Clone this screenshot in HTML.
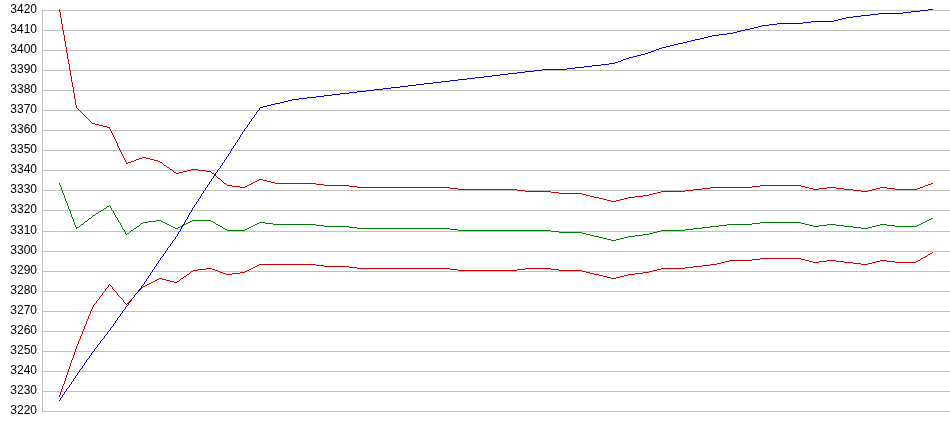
<!DOCTYPE html>
<html><head><meta charset="utf-8"><title>chart</title>
<style>
html,body{margin:0;padding:0;background:#fff;}
svg{display:block}
text{font-family:"Liberation Sans",Arial,sans-serif;font-size:12px;fill:#000;text-anchor:end}
path{shape-rendering:crispEdges}
</style></head><body>
<svg width="950" height="435" viewBox="0 0 950 435">
<rect width="950" height="435" fill="#fff"/>
<g fill="#c0c0c0" shape-rendering="crispEdges"><rect x="42" y="10" width="908" height="1"/><rect x="42" y="30" width="908" height="1"/><rect x="42" y="50" width="908" height="1"/><rect x="42" y="70" width="908" height="1"/><rect x="42" y="90" width="908" height="1"/><rect x="42" y="110" width="908" height="1"/><rect x="42" y="130" width="908" height="1"/><rect x="42" y="150" width="908" height="1"/><rect x="42" y="170" width="908" height="1"/><rect x="42" y="190" width="908" height="1"/><rect x="42" y="210" width="908" height="1"/><rect x="42" y="231" width="908" height="1"/><rect x="42" y="251" width="908" height="1"/><rect x="42" y="271" width="908" height="1"/><rect x="42" y="291" width="908" height="1"/><rect x="42" y="311" width="908" height="1"/><rect x="42" y="331" width="908" height="1"/><rect x="42" y="351" width="908" height="1"/><rect x="42" y="371" width="908" height="1"/><rect x="42" y="391" width="908" height="1"/><rect x="42" y="411" width="908" height="1"/><rect x="42" y="10" width="1" height="402"/></g>
<g><text x="37" y="13">3420</text><text x="37" y="33">3410</text><text x="37" y="53">3400</text><text x="37" y="73">3390</text><text x="37" y="93">3380</text><text x="37" y="113">3370</text><text x="37" y="133">3360</text><text x="37" y="153">3350</text><text x="37" y="173">3340</text><text x="37" y="193">3330</text><text x="37" y="213">3320</text><text x="37" y="234">3310</text><text x="37" y="254">3300</text><text x="37" y="274">3290</text><text x="37" y="294">3280</text><text x="37" y="314">3270</text><text x="37" y="334">3260</text><text x="37" y="354">3250</text><text x="37" y="374">3240</text><text x="37" y="394">3230</text><text x="37" y="414">3220</text></g>
<path fill="#cc0000" d="M59 9h1v3h-1zM60 12h1v6h-1zM61 18h1v6h-1zM62 24h1v6h-1zM63 30h1v5h-1zM64 35h1v6h-1zM65 41h1v6h-1zM66 47h1v6h-1zM67 53h1v6h-1zM68 59h1v5h-1zM69 64h1v6h-1zM70 70h1v6h-1zM71 76h1v6h-1zM72 82h1v5h-1zM73 87h1v6h-1zM74 93h1v6h-1zM75 99h1v6h-1zM76 105h1v3h-1zM77 108h1v1h-1zM78 109h1v1h-1zM79 110h1v1h-1zM80 111h1v1h-1zM81 112h1v1h-1zM82 113h1v1h-1zM83 114h1v1h-1zM84 115h1v1h-1zM85 116h1v1h-1zM86 117h1v1h-1zM87 118h1v1h-1zM88 119h1v1h-1zM89 120h1v1h-1zM90 121h1v1h-1zM91 122h1v1h-1zM92 123h3v1h-3zM95 124h4v1h-4zM99 125h4v1h-4zM103 126h4v1h-4zM107 127h3v1h-3zM109 128h1v1h-1zM110 129h1v2h-1zM111 131h1v2h-1zM112 133h1v2h-1zM113 135h1v2h-1zM114 137h1v2h-1zM115 139h1v2h-1zM116 141h1v2h-1zM117 143h1v3h-1zM118 146h1v2h-1zM119 148h1v2h-1zM120 150h1v2h-1zM121 152h1v2h-1zM122 154h1v2h-1zM123 156h1v2h-1zM124 158h1v2h-1zM125 160h1v2h-1zM126 162h1v1h-1zM126 163h2v1h-2zM128 162h3v1h-3zM131 161h3v1h-3zM134 160h2v1h-2zM136 159h3v1h-3zM139 158h3v1h-3zM142 157h4v1h-4zM146 158h4v1h-4zM150 159h4v1h-4zM154 160h4v1h-4zM158 161h2v1h-2zM160 162h2v1h-2zM162 163h1v1h-1zM163 164h1v1h-1zM164 165h2v1h-2zM166 166h1v1h-1zM167 167h2v1h-2zM169 168h1v1h-1zM170 169h2v1h-2zM172 170h1v1h-1zM173 171h1v1h-1zM174 172h2v1h-2zM176 173h3v1h-3zM179 172h4v1h-4zM183 171h4v1h-4zM187 170h4v1h-4zM191 169h7v1h-7zM198 170h8v1h-8zM206 171h5v1h-5zM211 172h1v1h-1zM212 173h2v1h-2zM214 174h1v1h-1zM215 175h1v1h-1zM216 176h1v1h-1zM217 177h1v1h-1zM218 178h2v1h-2zM220 179h1v1h-1zM221 180h1v1h-1zM222 181h1v1h-1zM223 182h1v1h-1zM224 183h2v1h-2zM226 184h1v1h-1zM227 185h5v1h-5zM232 186h8v1h-8zM240 187h5v1h-5zM245 186h2v1h-2zM247 185h2v1h-2zM249 184h2v1h-2zM251 183h2v1h-2zM253 182h2v1h-2zM255 181h2v1h-2zM257 180h2v1h-2zM259 179h4v1h-4zM263 180h4v1h-4zM267 181h4v1h-4zM271 182h4v1h-4zM275 183h41v1h-41zM316 184h8v1h-8zM324 185h25v1h-25zM349 186h8v1h-8zM357 187h93v1h-93zM450 188h8v1h-8zM458 189h59v1h-59zM517 190h8v1h-8zM525 191h26v1h-26zM551 192h8v1h-8zM559 193h23v1h-23zM582 194h4v1h-4zM586 195h4v1h-4zM590 196h4v1h-4zM594 197h5v1h-5zM599 198h4v1h-4zM603 199h4v1h-4zM607 200h4v1h-4zM611 201h5v1h-5zM616 200h4v1h-4zM620 199h4v1h-4zM624 198h4v1h-4zM628 197h7v1h-7zM635 196h8v1h-8zM643 195h6v1h-6zM649 194h4v1h-4zM653 193h4v1h-4zM657 192h4v1h-4zM661 191h24v1h-24zM685 190h8v1h-8zM693 189h9v1h-9zM702 188h8v1h-8zM710 187h42v1h-42zM752 186h8v1h-8zM760 185h41v1h-41zM801 186h4v1h-4zM805 187h4v1h-4zM809 188h4v1h-4zM813 189h6v1h-6zM819 188h8v1h-8zM827 187h9v1h-9zM836 188h8v1h-8zM844 189h9v1h-9zM853 190h8v1h-8zM861 191h7v1h-7zM868 190h4v1h-4zM872 189h4v1h-4zM876 188h4v1h-4zM880 187h7v1h-7zM887 188h8v1h-8zM895 189h22v1h-22zM917 188h3v1h-3zM920 187h3v1h-3zM923 186h2v1h-2zM925 185h3v1h-3zM928 184h3v1h-3zM931 183h2v1h-2z"/>
<path fill="#cc0000" d="M59 395h1v2h-1zM60 392h1v3h-1zM61 389h1v3h-1zM62 386h1v3h-1zM63 384h1v2h-1zM64 381h1v3h-1zM65 378h1v3h-1zM66 375h1v3h-1zM67 372h1v3h-1zM68 369h1v3h-1zM69 366h1v3h-1zM70 363h1v3h-1zM71 360h1v3h-1zM72 358h1v2h-1zM73 355h1v3h-1zM74 352h1v3h-1zM75 349h1v3h-1zM76 346h1v3h-1zM77 344h1v2h-1zM78 341h1v3h-1zM79 339h1v2h-1zM80 336h1v3h-1zM81 334h1v2h-1zM82 331h1v3h-1zM83 329h1v2h-1zM84 326h1v3h-1zM85 324h1v2h-1zM86 321h1v3h-1zM87 319h1v2h-1zM88 316h1v3h-1zM89 314h1v2h-1zM90 311h1v3h-1zM91 309h1v2h-1zM92 307h1v2h-1zM93 305h1v2h-1zM94 304h1v1h-1zM95 303h1v1h-1zM96 301h1v2h-1zM97 300h1v1h-1zM98 299h1v1h-1zM99 297h1v2h-1zM100 296h1v1h-1zM101 295h1v1h-1zM102 293h1v2h-1zM103 292h1v1h-1zM104 291h1v1h-1zM105 289h1v2h-1zM106 288h1v1h-1zM107 287h1v1h-1zM108 285h1v2h-1zM109 284h1v1h-1zM110 285h1v1h-1zM111 286h1v1h-1zM112 287h1v2h-1zM113 289h1v1h-1zM114 290h1v1h-1zM115 291h1v1h-1zM116 292h1v1h-1zM117 293h1v2h-1zM118 295h1v1h-1zM119 296h1v1h-1zM120 297h1v1h-1zM121 298h1v1h-1zM122 299h1v1h-1zM123 300h1v2h-1zM124 302h1v1h-1zM125 303h1v1h-1zM126 304h1v1h-1zM127 303h1v1h-1zM128 302h1v1h-1zM129 301h1v1h-1zM130 300h1v1h-1zM131 299h1v1h-1zM132 298h1v1h-1zM133 297h1v1h-1zM134 295h1v2h-1zM135 294h1v1h-1zM136 293h1v1h-1zM137 292h1v1h-1zM138 291h1v1h-1zM139 290h1v1h-1zM140 289h1v1h-1zM141 288h1v1h-1zM142 287h1v1h-1zM143 286h2v1h-2zM145 285h2v1h-2zM147 284h2v1h-2zM149 283h2v1h-2zM151 282h2v1h-2zM153 281h2v1h-2zM155 280h2v1h-2zM157 279h2v1h-2zM159 278h3v1h-3zM162 279h4v1h-4zM166 280h4v1h-4zM170 281h4v1h-4zM174 282h3v1h-3zM177 281h2v1h-2zM179 280h1v1h-1zM180 279h1v1h-1zM181 278h2v1h-2zM183 277h1v1h-1zM184 276h2v1h-2zM186 275h1v1h-1zM187 274h2v1h-2zM189 273h1v1h-1zM190 272h1v1h-1zM191 271h2v1h-2zM193 270h5v1h-5zM198 269h8v1h-8zM206 268h6v1h-6zM212 269h3v1h-3zM215 270h3v1h-3zM218 271h2v1h-2zM220 272h3v1h-3zM223 273h3v1h-3zM226 274h6v1h-6zM232 273h8v1h-8zM240 272h5v1h-5zM245 271h2v1h-2zM247 270h2v1h-2zM249 269h2v1h-2zM251 268h2v1h-2zM253 267h2v1h-2zM255 266h2v1h-2zM257 265h2v1h-2zM259 264h57v1h-57zM316 265h8v1h-8zM324 266h25v1h-25zM349 267h8v1h-8zM357 268h93v1h-93zM450 269h8v1h-8zM458 270h59v1h-59zM517 269h8v1h-8zM525 268h26v1h-26zM551 269h8v1h-8zM559 270h23v1h-23zM582 271h4v1h-4zM586 272h4v1h-4zM590 273h4v1h-4zM594 274h5v1h-5zM599 275h4v1h-4zM603 276h4v1h-4zM607 277h4v1h-4zM611 278h5v1h-5zM616 277h4v1h-4zM620 276h4v1h-4zM624 275h4v1h-4zM628 274h7v1h-7zM635 273h8v1h-8zM643 272h6v1h-6zM649 271h4v1h-4zM653 270h4v1h-4zM657 269h4v1h-4zM661 268h24v1h-24zM685 267h8v1h-8zM693 266h9v1h-9zM702 265h8v1h-8zM710 264h7v1h-7zM717 263h4v1h-4zM721 262h4v1h-4zM725 261h4v1h-4zM729 260h23v1h-23zM752 259h8v1h-8zM760 258h41v1h-41zM801 259h4v1h-4zM805 260h4v1h-4zM809 261h4v1h-4zM813 262h6v1h-6zM819 261h8v1h-8zM827 260h9v1h-9zM836 261h8v1h-8zM844 262h9v1h-9zM853 263h8v1h-8zM861 264h7v1h-7zM868 263h4v1h-4zM872 262h4v1h-4zM876 261h4v1h-4zM880 260h7v1h-7zM887 261h8v1h-8zM895 262h21v1h-21zM916 261h2v1h-2zM918 260h2v1h-2zM920 259h1v1h-1zM921 258h2v1h-2zM923 257h2v1h-2zM925 256h2v1h-2zM927 255h1v1h-1zM928 254h2v1h-2zM930 253h2v1h-2zM932 252h1v1h-1z"/>
<path fill="#008000" d="M59 183h1v2h-1zM60 185h1v2h-1zM61 187h1v3h-1zM62 190h1v3h-1zM63 193h1v2h-1zM64 195h1v3h-1zM65 198h1v3h-1zM66 201h1v2h-1zM67 203h1v3h-1zM68 206h1v3h-1zM69 209h1v2h-1zM70 211h1v3h-1zM71 214h1v3h-1zM72 217h1v2h-1zM73 219h1v3h-1zM74 222h1v3h-1zM75 225h1v2h-1zM76 228h1v1h-1zM76 227h3v1h-3zM79 226h1v1h-1zM80 225h1v1h-1zM81 224h2v1h-2zM83 223h1v1h-1zM84 222h1v1h-1zM85 221h2v1h-2zM87 220h1v1h-1zM88 219h1v1h-1zM89 218h2v1h-2zM91 217h1v1h-1zM92 216h1v1h-1zM93 215h2v1h-2zM95 214h1v1h-1zM96 213h2v1h-2zM98 212h1v1h-1zM99 211h2v1h-2zM101 210h2v1h-2zM103 209h1v1h-1zM104 208h2v1h-2zM106 207h1v1h-1zM107 206h2v1h-2zM109 205h1v1h-1zM110 206h1v2h-1zM111 208h1v2h-1zM112 210h1v1h-1zM113 211h1v2h-1zM114 213h1v2h-1zM115 215h1v2h-1zM116 217h1v1h-1zM117 218h1v2h-1zM118 220h1v2h-1zM119 222h1v1h-1zM120 223h1v2h-1zM121 225h1v2h-1zM122 227h1v2h-1zM123 229h1v1h-1zM124 230h1v2h-1zM125 232h1v2h-1zM126 234h1v1h-1zM127 233h2v1h-2zM129 232h1v1h-1zM130 231h1v1h-1zM131 230h2v1h-2zM133 229h1v1h-1zM134 228h2v1h-2zM136 227h1v1h-1zM137 226h2v1h-2zM139 225h1v1h-1zM140 224h1v1h-1zM141 223h2v1h-2zM143 222h5v1h-5zM148 221h8v1h-8zM156 220h5v1h-5zM161 221h2v1h-2zM163 222h2v1h-2zM165 223h2v1h-2zM167 224h2v1h-2zM169 225h2v1h-2zM171 226h2v1h-2zM173 227h2v1h-2zM175 228h3v1h-3zM178 227h2v1h-2zM180 226h2v1h-2zM182 225h2v1h-2zM184 224h2v1h-2zM186 223h2v1h-2zM188 222h2v1h-2zM190 221h2v1h-2zM192 220h19v1h-19zM211 221h2v1h-2zM213 222h2v1h-2zM215 223h1v1h-1zM216 224h2v1h-2zM218 225h2v1h-2zM220 226h2v1h-2zM222 227h1v1h-1zM223 228h2v1h-2zM225 229h2v1h-2zM227 230h18v1h-18zM245 229h2v1h-2zM247 228h2v1h-2zM249 227h2v1h-2zM251 226h2v1h-2zM253 225h2v1h-2zM255 224h2v1h-2zM257 223h2v1h-2zM259 222h6v1h-6zM265 223h8v1h-8zM273 224h43v1h-43zM316 225h8v1h-8zM324 226h25v1h-25zM349 227h8v1h-8zM357 228h93v1h-93zM450 229h8v1h-8zM458 230h93v1h-93zM551 231h8v1h-8zM559 232h23v1h-23zM582 233h4v1h-4zM586 234h4v1h-4zM590 235h4v1h-4zM594 236h5v1h-5zM599 237h4v1h-4zM603 238h4v1h-4zM607 239h4v1h-4zM611 240h5v1h-5zM616 239h4v1h-4zM620 238h4v1h-4zM624 237h4v1h-4zM628 236h7v1h-7zM635 235h8v1h-8zM643 234h6v1h-6zM649 233h4v1h-4zM653 232h4v1h-4zM657 231h4v1h-4zM661 230h24v1h-24zM685 229h8v1h-8zM693 228h9v1h-9zM702 227h8v1h-8zM710 226h9v1h-9zM719 225h8v1h-8zM727 224h25v1h-25zM752 223h8v1h-8zM760 222h41v1h-41zM801 223h4v1h-4zM805 224h4v1h-4zM809 225h4v1h-4zM813 226h6v1h-6zM819 225h8v1h-8zM827 224h9v1h-9zM836 225h8v1h-8zM844 226h9v1h-9zM853 227h8v1h-8zM861 228h7v1h-7zM868 227h4v1h-4zM872 226h4v1h-4zM876 225h4v1h-4zM880 224h7v1h-7zM887 225h8v1h-8zM895 226h22v1h-22zM917 225h2v1h-2zM919 224h2v1h-2zM921 223h2v1h-2zM923 222h2v1h-2zM925 221h2v1h-2zM927 220h2v1h-2zM929 219h2v1h-2zM931 218h2v1h-2z"/>
<path fill="#0000cc" d="M59 400h1v1h-1zM60 398h1v2h-1zM61 397h1v1h-1zM62 395h1v2h-1zM63 394h1v1h-1zM64 392h1v2h-1zM65 391h1v1h-1zM66 389h1v2h-1zM67 388h1v1h-1zM68 387h1v1h-1zM69 385h1v2h-1zM70 384h1v1h-1zM71 382h1v2h-1zM72 381h1v1h-1zM73 379h1v2h-1zM74 378h1v1h-1zM75 376h1v2h-1zM76 375h1v1h-1zM77 373h1v2h-1zM78 372h1v1h-1zM79 370h1v2h-1zM80 369h1v1h-1zM81 368h1v1h-1zM82 366h1v2h-1zM83 365h1v1h-1zM84 363h1v2h-1zM85 362h1v1h-1zM86 360h1v2h-1zM87 359h1v1h-1zM88 358h1v1h-1zM89 356h1v2h-1zM90 355h1v1h-1zM91 353h1v2h-1zM92 352h1v1h-1zM93 351h1v1h-1zM94 349h1v2h-1zM95 348h1v1h-1zM96 347h1v1h-1zM97 345h1v2h-1zM98 344h1v1h-1zM99 343h1v1h-1zM100 341h1v2h-1zM101 340h1v1h-1zM102 339h1v1h-1zM103 338h1v1h-1zM104 336h1v2h-1zM105 335h1v1h-1zM106 334h1v1h-1zM107 332h1v2h-1zM108 331h1v1h-1zM109 330h1v1h-1zM110 328h1v2h-1zM111 327h1v1h-1zM112 326h1v1h-1zM113 324h1v2h-1zM114 323h1v1h-1zM115 321h1v2h-1zM116 320h1v1h-1zM117 318h1v2h-1zM118 317h1v1h-1zM119 316h1v1h-1zM120 314h1v2h-1zM121 313h1v1h-1zM122 311h1v2h-1zM123 310h1v1h-1zM124 309h1v1h-1zM125 307h1v2h-1zM126 306h1v1h-1zM127 305h1v1h-1zM128 303h1v2h-1zM129 302h1v1h-1zM130 301h1v1h-1zM131 299h1v2h-1zM132 298h1v1h-1zM133 297h1v1h-1zM134 295h1v2h-1zM135 294h1v1h-1zM136 293h1v1h-1zM137 292h1v1h-1zM138 290h1v2h-1zM139 289h1v1h-1zM140 288h1v1h-1zM141 286h1v2h-1zM142 285h1v1h-1zM143 284h1v1h-1zM144 282h1v2h-1zM145 281h1v1h-1zM146 279h1v2h-1zM147 278h1v1h-1zM148 276h1v2h-1zM149 275h1v1h-1zM150 273h1v2h-1zM151 272h1v1h-1zM152 270h1v2h-1zM153 269h1v1h-1zM154 267h1v2h-1zM155 266h1v1h-1zM156 264h1v2h-1zM157 263h1v1h-1zM158 261h1v2h-1zM159 260h1v1h-1zM160 258h1v2h-1zM161 257h1v1h-1zM162 256h1v1h-1zM163 254h1v2h-1zM164 253h1v1h-1zM165 251h1v2h-1zM166 250h1v1h-1zM167 248h1v2h-1zM168 247h1v1h-1zM169 246h1v1h-1zM170 244h1v2h-1zM171 243h1v1h-1zM172 241h1v2h-1zM173 240h1v1h-1zM174 239h1v1h-1zM175 237h1v2h-1zM176 236h1v1h-1zM177 234h1v2h-1zM178 232h1v2h-1zM179 231h1v1h-1zM180 229h1v2h-1zM181 227h1v2h-1zM182 225h1v2h-1zM183 224h1v1h-1zM184 222h1v2h-1zM185 220h1v2h-1zM186 219h1v1h-1zM187 217h1v2h-1zM188 215h1v2h-1zM189 213h1v2h-1zM190 212h1v1h-1zM191 210h1v2h-1zM192 208h1v2h-1zM193 207h1v1h-1zM194 205h1v2h-1zM195 204h1v1h-1zM196 202h1v2h-1zM197 201h1v1h-1zM198 199h1v2h-1zM199 198h1v1h-1zM200 196h1v2h-1zM201 194h1v2h-1zM202 193h1v1h-1zM203 191h1v2h-1zM204 190h1v1h-1zM205 188h1v2h-1zM206 187h1v1h-1zM207 185h1v2h-1zM208 184h1v1h-1zM209 182h1v2h-1zM210 181h1v1h-1zM211 179h1v2h-1zM212 178h1v1h-1zM213 176h1v2h-1zM214 175h1v1h-1zM215 173h1v2h-1zM216 172h1v1h-1zM217 170h1v2h-1zM218 169h1v1h-1zM219 168h1v1h-1zM220 166h1v2h-1zM221 165h1v1h-1zM222 163h1v2h-1zM223 162h1v1h-1zM224 160h1v2h-1zM225 159h1v1h-1zM226 157h1v2h-1zM227 156h1v1h-1zM228 154h1v2h-1zM229 153h1v1h-1zM230 151h1v2h-1zM231 149h1v2h-1zM232 148h1v1h-1zM233 146h1v2h-1zM234 145h1v1h-1zM235 143h1v2h-1zM236 142h1v1h-1zM237 140h1v2h-1zM238 139h1v1h-1zM239 137h1v2h-1zM240 135h1v2h-1zM241 134h1v1h-1zM242 132h1v2h-1zM243 131h1v1h-1zM244 129h1v2h-1zM245 128h1v1h-1zM246 127h1v1h-1zM247 125h1v2h-1zM248 124h1v1h-1zM249 122h1v2h-1zM250 121h1v1h-1zM251 119h1v2h-1zM252 118h1v1h-1zM253 117h1v1h-1zM254 115h1v2h-1zM255 114h1v1h-1zM256 112h1v2h-1zM257 111h1v1h-1zM258 110h1v1h-1zM259 108h1v2h-1zM260 107h3v1h-3zM263 106h4v1h-4zM267 105h4v1h-4zM271 104h4v1h-4zM275 103h5v1h-5zM280 102h4v1h-4zM284 101h4v1h-4zM288 100h4v1h-4zM292 99h7v1h-7zM299 98h8v1h-8zM307 97h9v1h-9zM316 96h8v1h-8zM324 95h8v1h-8zM332 94h8v1h-8zM340 93h9v1h-9zM349 92h8v1h-8zM357 91h9v1h-9zM366 90h8v1h-8zM374 89h9v1h-9zM383 88h8v1h-8zM391 87h9v1h-9zM400 86h8v1h-8zM408 85h8v1h-8zM416 84h8v1h-8zM424 83h9v1h-9zM433 82h8v1h-8zM441 81h9v1h-9zM450 80h8v1h-8zM458 79h9v1h-9zM467 78h8v1h-8zM475 77h9v1h-9zM484 76h8v1h-8zM492 75h8v1h-8zM500 74h8v1h-8zM508 73h9v1h-9zM517 72h8v1h-8zM525 71h9v1h-9zM534 70h8v1h-8zM542 69h25v1h-25zM567 68h8v1h-8zM575 67h9v1h-9zM584 66h8v1h-8zM592 65h9v1h-9zM601 64h8v1h-8zM609 63h6v1h-6zM615 62h3v1h-3zM618 61h3v1h-3zM621 60h2v1h-2zM623 59h3v1h-3zM626 58h3v1h-3zM629 57h4v1h-4zM633 56h4v1h-4zM637 55h4v1h-4zM641 54h4v1h-4zM645 53h3v1h-3zM648 52h3v1h-3zM651 51h3v1h-3zM654 50h2v1h-2zM656 49h3v1h-3zM659 48h3v1h-3zM662 47h4v1h-4zM666 46h4v1h-4zM670 45h4v1h-4zM674 44h4v1h-4zM678 43h5v1h-5zM683 42h4v1h-4zM687 41h4v1h-4zM691 40h4v1h-4zM695 39h5v1h-5zM700 38h4v1h-4zM704 37h4v1h-4zM708 36h4v1h-4zM712 35h7v1h-7zM719 34h8v1h-8zM727 33h6v1h-6zM733 32h4v1h-4zM737 31h4v1h-4zM741 30h4v1h-4zM745 29h5v1h-5zM750 28h4v1h-4zM754 27h4v1h-4zM758 26h4v1h-4zM762 25h7v1h-7zM769 24h8v1h-8zM777 23h26v1h-26zM803 22h8v1h-8zM811 21h23v1h-23zM834 20h4v1h-4zM838 19h4v1h-4zM842 18h4v1h-4zM846 17h7v1h-7zM853 16h8v1h-8zM861 15h9v1h-9zM870 14h8v1h-8zM878 13h25v1h-25zM903 12h8v1h-8zM911 11h9v1h-9zM920 10h8v1h-8zM928 9h5v1h-5z"/>
</svg>
</body></html>
